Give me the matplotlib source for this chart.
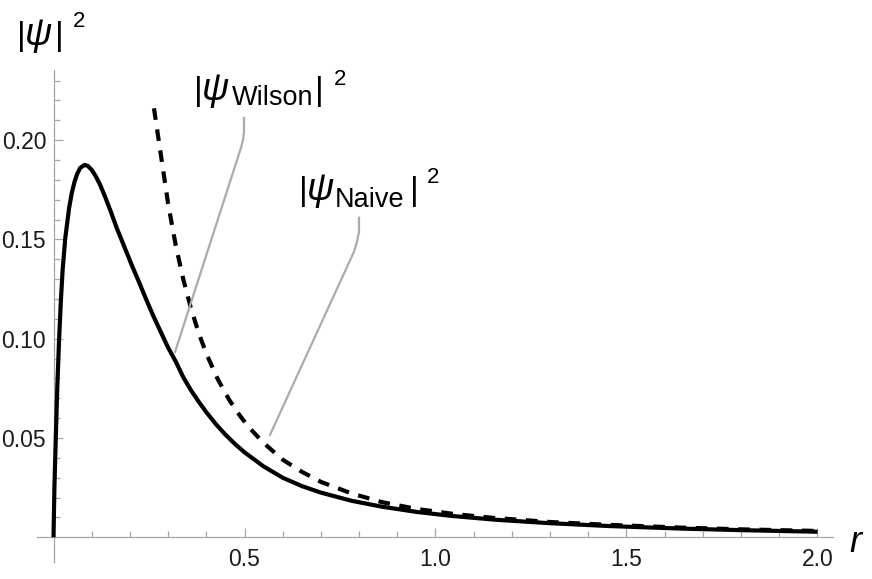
import matplotlib
matplotlib.use("Agg")
import matplotlib.pyplot as plt
from matplotlib.ticker import FixedLocator, FixedFormatter, NullFormatter

# ---------------- data ----------------
r_wilson = [0.0, 0.0025, 0.006, 0.010, 0.0145, 0.019, 0.024, 0.031, 0.041,
            0.048, 0.055, 0.062, 0.070, 0.081, 0.090, 0.100, 0.110, 0.122,
            0.135, 0.150, 0.165, 0.185, 0.205, 0.225, 0.240, 0.260, 0.283,
            0.300, 0.320, 0.340, 0.360, 0.380, 0.400, 0.425, 0.450, 0.475,
            0.500, 0.550, 0.600, 0.650, 0.700, 0.780, 0.860, 0.950, 1.040,
            1.160, 1.300, 1.450, 1.640, 1.800, 2.000]
psi2_wilson = [0.0, 0.026, 0.050, 0.076, 0.099, 0.118, 0.135, 0.151, 0.166,
               0.1735, 0.179, 0.1830, 0.1860, 0.1875, 0.1870, 0.1850, 0.1820,
               0.1775, 0.1715, 0.1640, 0.1560, 0.1465, 0.1370, 0.1280, 0.1210,
               0.1120, 0.1025, 0.0955, 0.0885, 0.0805, 0.0740, 0.0683, 0.0630,
               0.0570, 0.0517, 0.0470, 0.0428, 0.0357, 0.0300, 0.0258, 0.0225,
               0.0184, 0.0154, 0.0128, 0.0108, 0.0088, 0.0071, 0.0057, 0.0044,
               0.0036, 0.0028]

r_naive = [0.263, 0.280, 0.300, 0.320, 0.340, 0.360, 0.380, 0.400, 0.430,
           0.460, 0.490, 0.514, 0.550, 0.600, 0.650, 0.700, 0.780, 0.860,
           0.950, 1.050, 1.150, 1.300, 1.450, 1.640, 1.800, 2.000]
psi2_naive = [0.216, 0.194, 0.168, 0.147, 0.1297, 0.1152, 0.1029, 0.0925,
              0.0796, 0.0692, 0.0607, 0.0549, 0.0475, 0.0391, 0.0330, 0.0279,
              0.0221, 0.0177, 0.0143, 0.0117, 0.0098, 0.0077, 0.0063, 0.0049,
              0.0040, 0.0032]

x_major = [0.5, 1.0, 1.5, 2.0]
x_major_labels = ["0.5", "1.0", "1.5", "2.0"]
x_minor = [0.1, 0.2, 0.3, 0.4, 0.6, 0.7, 0.8, 0.9, 1.1, 1.2, 1.3, 1.4,
           1.6, 1.7, 1.8, 1.9]
y_major = [0.05, 0.10, 0.15, 0.20]
y_major_labels = ["0.05", "0.10", "0.15", "0.20"]
y_minor = [0.01, 0.02, 0.03, 0.04, 0.06, 0.07, 0.08, 0.09, 0.11, 0.12,
           0.13, 0.14, 0.16, 0.17, 0.18, 0.19, 0.21, 0.22, 0.23]

# ---------------- layout ----------------
W, H = 872, 579
fig = plt.figure(figsize=(W / 100, H / 100), dpi=100)

x0_px, sx = 53.5, 382.0      # pixel of r=0 and px per unit
y0_px, sy = 537.3, 1986.0    # pixel of 0 and px per unit
xlim = (-0.0424, 2.0406)
ylim = (-0.0123, 0.2353)
left = (x0_px + xlim[0] * sx) / W
right = (x0_px + xlim[1] * sx) / W
top = 1 - (y0_px - ylim[1] * sy) / H
bottom = 1 - (y0_px - ylim[0] * sy) / H
ax = fig.add_axes([left, bottom, right - left, top - bottom])
ax.set_xlim(*xlim)
ax.set_ylim(*ylim)
ax.patch.set_alpha(0)

axis_col = "#a6a6a6"
for s in ("top", "right"):
    ax.spines[s].set_visible(False)
ax.spines["left"].set_position(("data", 0))
ax.spines["bottom"].set_position(("data", 0))
for s in ("left", "bottom"):
    ax.spines[s].set_color(axis_col)
    ax.spines[s].set_linewidth(0.9)

ax.xaxis.set_major_locator(FixedLocator(x_major))
ax.xaxis.set_major_formatter(FixedFormatter(x_major_labels))
ax.xaxis.set_minor_locator(FixedLocator(x_minor))
ax.xaxis.set_minor_formatter(NullFormatter())
ax.yaxis.set_major_locator(FixedLocator(y_major))
ax.yaxis.set_major_formatter(FixedFormatter(y_major_labels))
ax.yaxis.set_minor_locator(FixedLocator(y_minor))
ax.yaxis.set_minor_formatter(NullFormatter())

tick_font = "Liberation Sans"
ax.tick_params(which="both", direction="in", color=axis_col, width=0.9)
ax.tick_params(which="major", length=6.5)
ax.tick_params(which="minor", length=4.0)
ax.tick_params(axis="x", which="major", pad=8.0, labelsize=16.5,
               labelcolor="#1a1a1a")
ax.tick_params(axis="y", which="major", pad=5.3, labelsize=16.5,
               labelcolor="#1a1a1a")
for lab in ax.get_xticklabels() + ax.get_yticklabels():
    lab.set_family(tick_font)

# ---------------- curves ----------------
ax.plot(r_wilson, psi2_wilson, color="black", lw=3.0,
        solid_joinstyle="round", solid_capstyle="butt", clip_on=False,
        zorder=3)
ax.plot(r_naive, psi2_naive, color="black", lw=3.0,
        linestyle=(0, (2.8, 2.3)), dash_capstyle="butt",
        dash_joinstyle="round", clip_on=False, zorder=3)

# ---------------- label leader lines ----------------
lead_col = "#ababab"
wilson_lead_r = [0.4987, 0.4987, 0.4961, 0.4908, 0.3181]
wilson_lead_y = [0.2111, 0.2041, 0.2001, 0.1961, 0.0933]
naive_lead_r = [0.7997, 0.7997, 0.7945, 0.7866, 0.5668]
naive_lead_y = [0.1609, 0.1538, 0.1488, 0.1438, 0.0516]
ax.plot(wilson_lead_r, wilson_lead_y, color=lead_col, lw=1.6,
        solid_joinstyle="round", clip_on=False, zorder=4)
ax.plot(naive_lead_r, naive_lead_y, color=lead_col, lw=1.6,
        solid_joinstyle="round", clip_on=False, zorder=4)

# ---------------- texts ----------------
FONT = "Liberation Sans"


def ptext(x, yb, s, size, style="normal"):
    fig.text(x / W, 1 - yb / H, s, fontsize=size, fontstyle=style,
             family=FONT, ha="left", va="baseline", color="black")


BAR, PSI, SUB, SUP = 24, 27, 19.5, 16

# axis label |psi|^2
ptext(17, 45, "|", BAR)
ptext(25, 45, "\u03c8", PSI, "italic")
ptext(55, 45, "|", BAR)
ptext(73, 27, "2", SUP)

# |psi_Wilson|^2
ptext(194, 100, "|", BAR)
ptext(202, 100, "\u03c8", PSI, "italic")
ptext(232, 105, "Wilson", SUB)
ptext(315, 100, "|", BAR)
ptext(334, 85, "2", SUP)

# |psi_Naive|^2
ptext(299, 200, "|", BAR)
ptext(307, 200, "\u03c8", PSI, "italic")
ptext(335, 207, "Naive", SUB)
ptext(410, 200, "|", BAR)
ptext(427, 183, "2", SUP)

# axis label r
ptext(849, 552, "r", 26, "italic")

fig.savefig("out.png", dpi=100)
